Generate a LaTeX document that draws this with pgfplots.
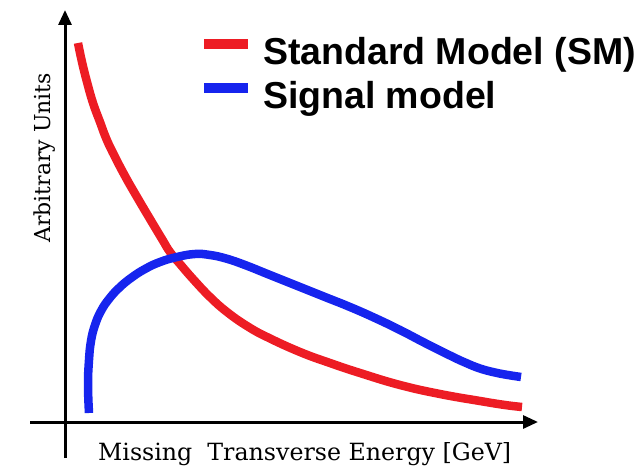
\documentclass[border=0pt]{standalone}
\usepackage{pgfplots}
\pgfplotsset{compat=1.18}
\usepackage{fontspec}
\usetikzlibrary{arrows.meta}
\newfontfamily\legendfont{Liberation Sans}
\newfontfamily\labelfont{DejaVu Serif}

\definecolor{smred}{RGB}{237,28,36}
\definecolor{sigblue}{RGB}{22,36,238}

\begin{document}
\begin{tikzpicture}
\begin{axis}[
    at={(0,0)}, anchor=south west,
    scale only axis,
    width=644bp, height=468bp,
    xmin=0, xmax=644, ymin=0, ymax=468,
    y dir=reverse,
    hide axis,
    clip=false,
    legend cell align=left,
    legend style={
        at={(axis cs:199,38)}, anchor=north west,
        draw=none, fill=none, inner sep=0pt, outer sep=0pt,
        font=\legendfont\bfseries\fontsize{37.5bp}{44bp}\selectfont,
        row sep=0pt, column sep=10bp,
        nodes={inner sep=0pt, text height=27bp, text depth=17bp},
    },
    legend image code/.code={
        \draw[#1, line width=10bp, line cap=butt] (0bp,16bp) -- (44bp,16bp);
    },
]
% axis arrows
\draw[line width=3bp, -{Triangle[length=15bp, width=13bp]}]
    (axis cs:30,422) -- (axis cs:538,422);
\draw[line width=3bp, -{Triangle[length=15bp, width=13bp]}]
    (axis cs:65,458) -- (axis cs:65,10);

% Standard Model background
\addplot[smred, line width=8.5bp, line cap=butt, smooth, tension=0.75] coordinates {
    (78,43) (82,62) (87,82) (93,103) (100,122) (106,138) (113,153)
    (125,176) (137,197) (150,219) (162,239) (170,252) (180,264)
    (193,279) (210,297) (227,312) (247,326) (267,337) (300,352)
    (330,363) (360,373) (400,385) (440,394) (480,401) (505,405) (522,407)
};
\addlegendentry{Standard Model (SM)}

% signal
\addplot[sigblue, line width=8.5bp, line cap=butt, smooth, tension=0.75] coordinates {
    (89,413) (88,385) (89,360) (91,341) (95,325) (101,311) (109,299)
    (119,288) (131,278) (145,269) (160,262) (177,257) (195,254)
    (210,255) (226,258.5) (245,265) (270,275) (300,287) (325,297)
    (350,307) (375,318) (400,330) (425,343) (450,355.5) (465,362.5)
    (480,368.5) (495,372.5) (508,375) (521,377)
};
\addlegendentry{Signal model}

% axis titles
\node[anchor=base west, inner sep=0pt, font=\labelfont\fontsize{23.7bp}{28bp}\selectfont]
    at (axis cs:98,460) {Missing\ \ Transverse Energy [GeV]};
\node[anchor=base west, inner sep=0pt, rotate=90, font=\labelfont\fontsize{22bp}{28bp}\selectfont]
    at (axis cs:50,243) {Arbitrary Units};
\end{axis}
\pgfresetboundingbox
\useasboundingbox (0,0) rectangle (644bp,468bp);
\end{tikzpicture}
\end{document}
